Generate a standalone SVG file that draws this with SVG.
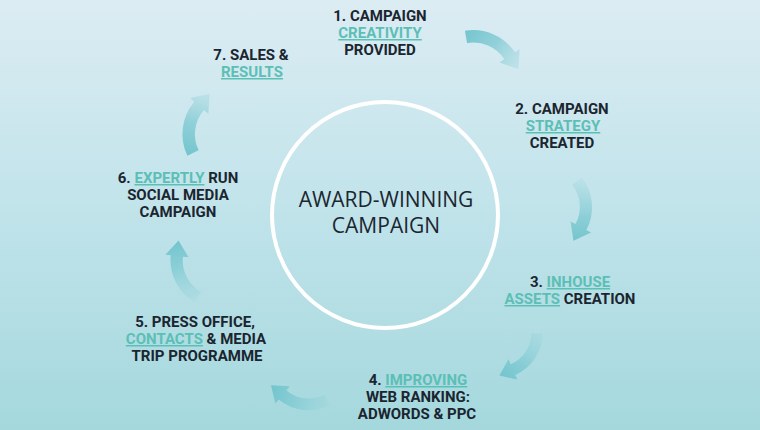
<svg xmlns="http://www.w3.org/2000/svg" xmlns:xlink="http://www.w3.org/1999/xlink" width="760" height="430" viewBox="0 0 760 430">
  <defs>
    <linearGradient id="bg" x1="0" y1="0" x2="0" y2="1">
      <stop offset="0" stop-color="#dcecf3"/>
      <stop offset="0.5" stop-color="#c0e3ea"/>
      <stop offset="1" stop-color="#a4d8dd"/>
    </linearGradient>
    <linearGradient id="fadeTail" gradientUnits="userSpaceOnUse" x1="-4" y1="0" x2="62" y2="0">
      <stop offset="0" stop-color="#8fd0d8" stop-opacity="0.15"/>
      <stop offset="0.6" stop-color="#7cc8d1" stop-opacity="0.75"/>
      <stop offset="1" stop-color="#6fc3cc" stop-opacity="0.95"/>
    </linearGradient>
    <linearGradient id="fadeHead" gradientUnits="userSpaceOnUse" x1="-4" y1="0" x2="62" y2="0">
      <stop offset="0" stop-color="#6fc3cc" stop-opacity="0.95"/>
      <stop offset="0.5" stop-color="#7cc8d1" stop-opacity="0.75"/>
      <stop offset="1" stop-color="#9fd6de" stop-opacity="0.35"/>
    </linearGradient>
    <path id="arrowShape" d="M -4.3,-4.5 A 50 50 0 0 1 49.2,-14.7 L 51.3,-19.8 L 61.6,-2.6 L 42.1,2.4 L 44.2,-3.0 A 37 37 0 0 0 4.3,4.5 Z"/>
    <style>
      .lbl { font-family: "Roboto", "Liberation Sans", sans-serif; font-weight: 700; font-size: 15px; fill: #1b2530; text-anchor: middle; }
      .hl { fill: #5cbfb6; text-decoration: underline; }
      .center { font-family: "Open Sans", "Liberation Sans", sans-serif; font-weight: 400; font-size: 21px; fill: #1b2730; text-anchor: middle; }
      .a1 { fill: url(#fadeTail); }
      .a2 { fill: url(#fadeHead); }
    </style>
  </defs>

  <rect x="0" y="0" width="760" height="430" fill="url(#bg)"/>

  <g id="connectors">
    <use xlink:href="#arrowShape" class="a2" transform="translate(466,37) rotate(34)"/>
    <use xlink:href="#arrowShape" class="a1" transform="translate(577,181) rotate(95.8) scale(0.97)"/>
    <use xlink:href="#arrowShape" class="a1" transform="translate(537,333) rotate(134) scale(0.92)"/>
    <use xlink:href="#arrowShape" class="a1" transform="translate(327,400) rotate(197.2) scale(0.94)"/>
    <use xlink:href="#arrowShape" class="a1" transform="translate(198,297) rotate(253.4) scale(0.97)"/>
    <use xlink:href="#arrowShape" class="a2" transform="translate(193,153) rotate(-71.9)"/>
  </g>

  <g id="center-node">
    <circle cx="385" cy="215" r="113" fill="none" stroke="#ffffff" stroke-width="4"/>
    <text class="center" x="386" y="207">AWARD-WINNING</text>
    <text class="center" x="386" y="233">CAMPAIGN</text>
  </g>

  <g id="step1">
    <text class="lbl" x="380" y="21">1. CAMPAIGN</text>
    <text class="lbl" x="380" y="38"><tspan class="hl">CREATIVITY</tspan></text>
    <text class="lbl" x="380" y="55">PROVIDED</text>
  </g>

  <g id="step2">
    <text class="lbl" x="562" y="114">2. CAMPAIGN</text>
    <text class="lbl" x="563" y="131"><tspan class="hl">STRATEGY</tspan></text>
    <text class="lbl" x="562" y="148">CREATED</text>
  </g>

  <g id="step3">
    <text class="lbl" x="570" y="287">3. <tspan class="hl">INHOUSE</tspan></text>
    <text class="lbl" x="570" y="304"><tspan class="hl">ASSETS</tspan> CREATION</text>
  </g>

  <g id="step4">
    <text class="lbl" x="418" y="385">4. <tspan class="hl">IMPROVING</tspan></text>
    <text class="lbl" x="418" y="402">WEB RANKING:</text>
    <text class="lbl" x="417" y="419">ADWORDS &amp; PPC</text>
  </g>

  <g id="step5">
    <text class="lbl" x="195" y="327">5. PRESS OFFICE,</text>
    <text class="lbl" x="196" y="344"><tspan class="hl">CONTACTS</tspan> &amp; MEDIA</text>
    <text class="lbl" x="197" y="361">TRIP PROGRAMME</text>
  </g>

  <g id="step6">
    <text class="lbl" x="178" y="183">6. <tspan class="hl">EXPERTLY</tspan> RUN</text>
    <text class="lbl" x="178" y="200">SOCIAL MEDIA</text>
    <text class="lbl" x="178" y="217">CAMPAIGN</text>
  </g>

  <g id="step7">
    <text class="lbl" x="251" y="60">7. SALES &amp;</text>
    <text class="lbl" x="252" y="77"><tspan class="hl">RESULTS</tspan></text>
  </g>
</svg>
